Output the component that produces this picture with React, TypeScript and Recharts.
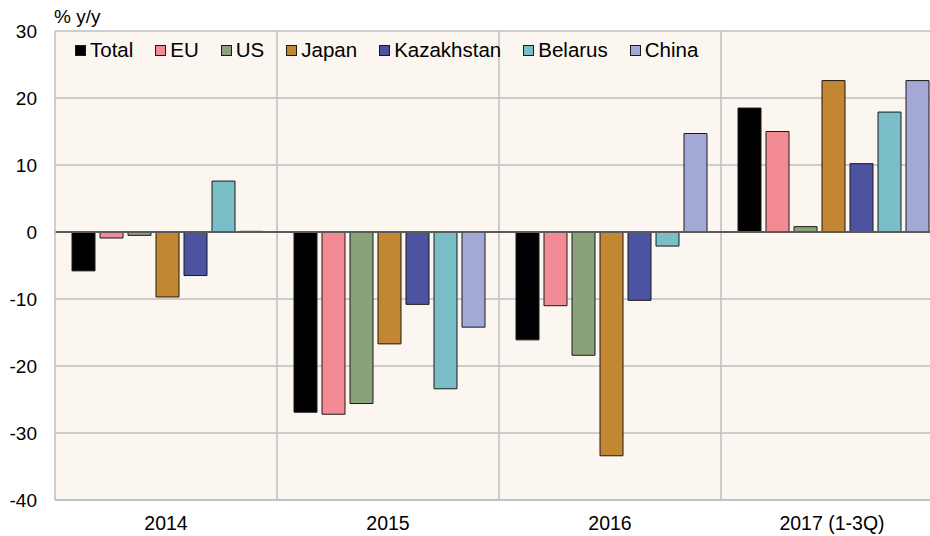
import React from 'react';
import {
  BarChart,
  Bar,
  XAxis,
  YAxis,
  CartesianGrid,
  ReferenceLine,
} from 'recharts';

const CATEGORIES = ['2014', '2015', '2016', '2017 (1-3Q)'];
const TOTAL = [-5.8, -26.9, -16.1, 18.5];
const EU = [-0.9, -27.2, -11.0, 15.0];
const US = [-0.5, -25.6, -18.4, 0.8];
const JAPAN = [-9.7, -16.7, -33.4, 22.6];
const KAZAKHSTAN = [-6.5, -10.8, -10.2, 10.2];
const BELARUS = [7.6, -23.4, -2.1, 17.9];
const CHINA = [0.1, -14.2, 14.7, 22.6];
const Y_TICKS = [-40, -30, -20, -10, 0, 10, 20, 30];
const BOUNDARIES = [1, 2, 3];

const SERIES = [
  { key: 'Total', values: TOTAL, color: '#000000' },
  { key: 'EU', values: EU, color: '#F28B93' },
  { key: 'US', values: US, color: '#8AA27A' },
  { key: 'Japan', values: JAPAN, color: '#C38632' },
  { key: 'Kazakhstan', values: KAZAKHSTAN, color: '#4C54A2' },
  { key: 'Belarus', values: BELARUS, color: '#7ABEC8' },
  { key: 'China', values: CHINA, color: '#A3A8D5' },
];

const data = CATEGORIES.map((name, i) => {
  const row: Record<string, string | number> = { name, idx: i + 0.5 };
  SERIES.forEach((s) => {
    row[s.key] = s.values[i];
  });
  return row;
});

const FONT = '"Liberation Sans", Arial, sans-serif';
const GRID = '#BFBFBF';

export default function App() {
  return (
    <div
      style={{
        position: 'fixed',
        left: 0,
        top: 0,
        width: 930,
        height: 536,
        overflow: 'hidden',
        background: '#ffffff',
        fontFamily: FONT,
      }}
    >
      <BarChart
        width={960}
        height={536}
        data={data}
        margin={{ top: 31, right: 17, bottom: 0, left: 0 }}
        barCategoryGap={17}
        barGap={5}
      >
        <CartesianGrid
          fill="#FBF6F0"
          stroke={GRID}
          strokeWidth={1.5}
          vertical={false}
          horizontalValues={Y_TICKS}
        />
        <XAxis
          dataKey="name"
          height={36}
          tickSize={0}
          tickMargin={16}
          stroke={GRID}
          strokeWidth={1.5}
          tick={{ fill: '#000', fontSize: 19.5, fontFamily: FONT }}
        />
        <XAxis
          xAxisId="grid"
          dataKey="idx"
          type="number"
          domain={[0, 4]}
          ticks={[0, 1, 2, 3, 4]}
          allowDataOverflow
          hide
        />
        <YAxis
          width={55}
          domain={[-40, 30]}
          ticks={Y_TICKS}
          interval={0}
          tickSize={0}
          tickMargin={18}
          stroke={GRID}
          strokeWidth={1.5}
          tick={{ fill: '#000', fontSize: 19, fontFamily: FONT }}
        />
        {BOUNDARIES.map((b) => (
          <ReferenceLine key={b} xAxisId="grid" x={b} stroke={GRID} strokeWidth={1.5} />
        ))}
        {SERIES.map((s) => (
          <Bar
            key={s.key}
            dataKey={s.key}
            fill={s.color}
            stroke="#1a1a1a"
            strokeWidth={1}
            isAnimationActive={false}
          />
        ))}
        <ReferenceLine y={0} stroke="#5a5a5a" strokeWidth={2} />
      </BarChart>

      <div
        style={{
          position: 'absolute',
          left: 54,
          top: 6,
          fontSize: 19,
          lineHeight: '22px',
          color: '#000',
        }}
      >
        % y/y
      </div>

      <div
        style={{
          position: 'absolute',
          left: 75,
          top: 38,
          display: 'flex',
          alignItems: 'center',
          fontSize: 20.5,
          lineHeight: '24px',
          color: '#000',
        }}
      >
        {SERIES.map((s) => (
          <div key={s.key} style={{ display: 'flex', alignItems: 'center', marginRight: 22 }}>
            <span
              style={{
                display: 'inline-block',
                width: 9,
                height: 9,
                background: s.color,
                border: '1px solid #1a1a1a',
                marginRight: 4,
              }}
            />
            <span>{s.key}</span>
          </div>
        ))}
      </div>
    </div>
  );
}
